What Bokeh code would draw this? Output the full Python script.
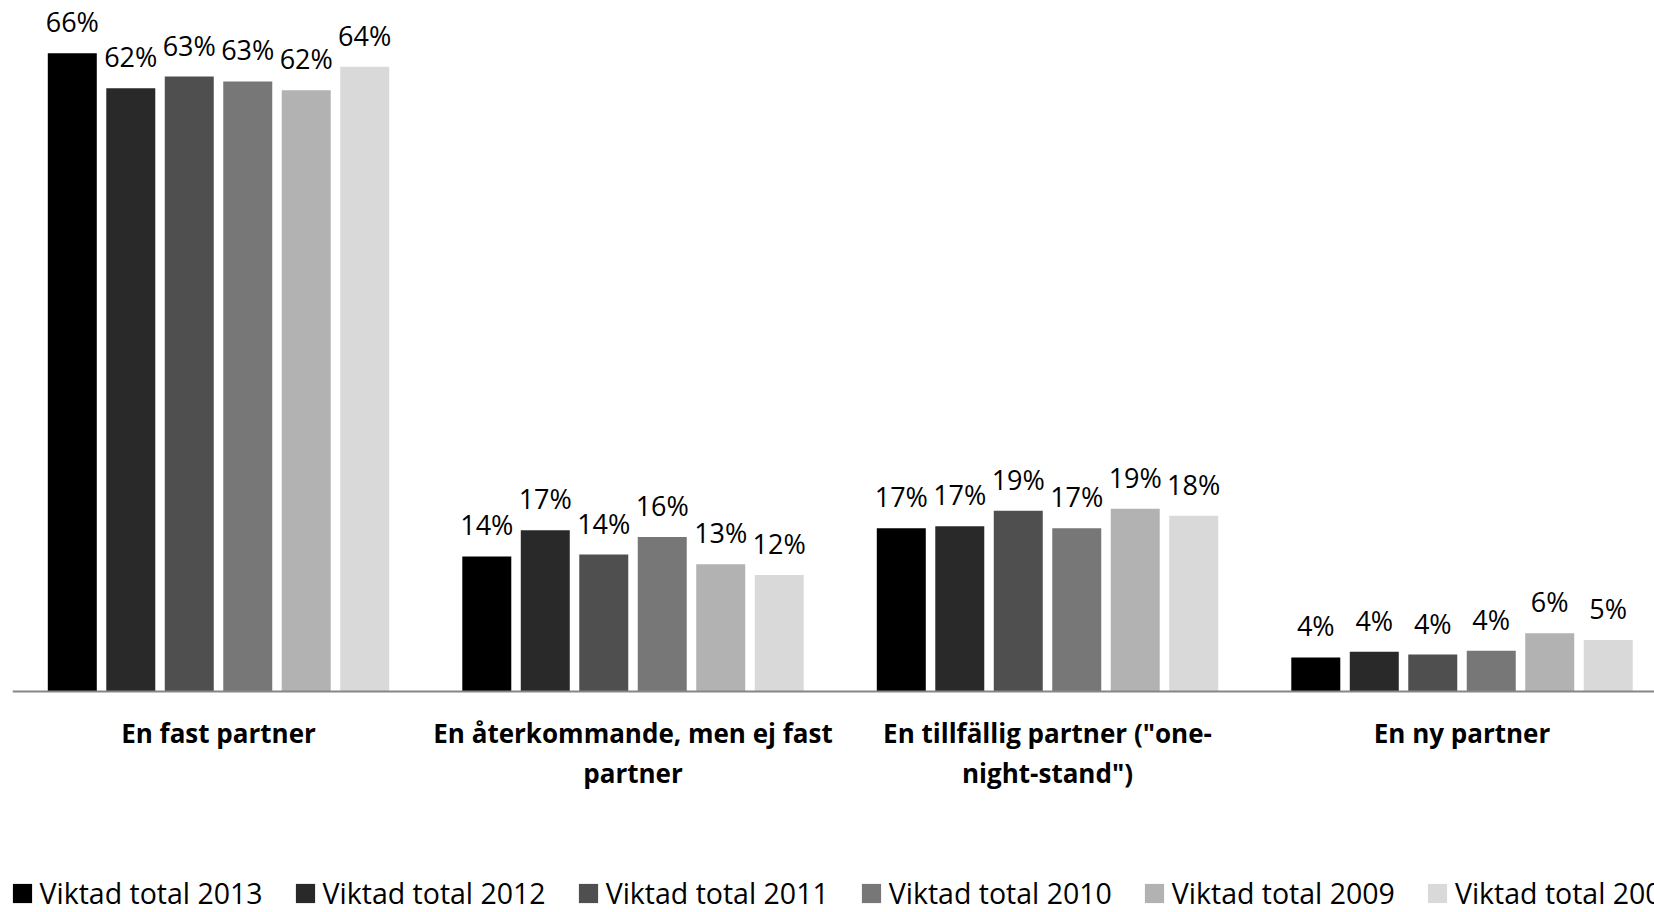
from bokeh.plotting import figure
from bokeh.models import ColumnDataSource, Range1d, FixedTicker, LabelSet, Legend, LegendItem
from bokeh.core.properties import value
from bokeh.embed import file_html
from bokeh.resources import INLINE

categories = [
    "En fast partner",
    "En återkommande, men ej fast\npartner",
    "En tillfällig partner (\"one-\nnight-stand\")",
    "En ny partner",
]
series_names = [
    "Viktad total 2013",
    "Viktad total 2012",
    "Viktad total 2011",
    "Viktad total 2010",
    "Viktad total 2009",
    "Viktad total 2008",
]
v2013 = [65.7, 13.9, 16.8, 3.5]
v2012 = [62.1, 16.6, 17.0, 4.1]
v2011 = [63.3, 14.1, 18.6, 3.8]
v2010 = [62.8, 15.9, 16.8, 4.2]
v2009 = [61.9, 13.1, 18.8, 6.0]
v2008 = [64.3, 12.0, 18.1, 5.3]
series_values = [v2013, v2012, v2011, v2010, v2009, v2008]
colors = ["#000000", "#292929", "#4f4f4f", "#777777", "#b2b2b2", "#d9d9d9"]

FONT = "Open Sans"
pitch = 0.1411
bar_w = 0.1182

p = figure(
    output_backend="svg",
    toolbar_location=None,
    frame_width=1642,
    frame_height=903,
    min_border_left=12,
    min_border_right=0,
    min_border_top=9,
    min_border_bottom=0,
    x_range=Range1d(-0.497, 3.4644),
    y_range=Range1d(-22.75, 70.2),
)
p.background_fill_color = "white"
p.border_fill_color = "white"
p.outline_line_color = None
p.grid.visible = False
p.yaxis.visible = False

renderers = []
for j, (name, vals, col) in enumerate(zip(series_names, series_values, colors)):
    xs = [i + (j - 2.5) * pitch for i in range(len(categories))]
    src = ColumnDataSource(dict(
        x=xs,
        top=vals,
        label=[f"{int(v + 0.5)}%" for v in vals],
    ))
    r = p.vbar(x="x", top="top", bottom=0, width=bar_w, source=src, fill_color=col, line_color=None)
    renderers.append(r)
    p.add_layout(LabelSet(
        x="x", y="top", text="label", source=src,
        text_align="center", text_baseline="alphabetic", y_offset=21,
        text_font=value(FONT), text_font_size=value("27px"), text_color="#000000",
    ))

ax = p.xaxis[0]
ax.fixed_location = 0
ax.ticker = FixedTicker(ticks=list(range(len(categories))))
ax.major_label_overrides = {i: c for i, c in enumerate(categories)}
ax.major_tick_line_color = None
ax.minor_tick_line_color = None
ax.major_tick_out = 0
ax.major_tick_in = 0
ax.minor_tick_out = 0
ax.minor_tick_in = 0
ax.axis_line_color = "#868686"
ax.axis_line_width = 2
ax.major_label_standoff = 24
ax.major_label_text_font = FONT
ax.major_label_text_font_style = "bold"
ax.major_label_text_font_size = "26px"
ax.major_label_text_color = "#000000"
ax.major_label_text_line_height = 1.11

legend = Legend(
    items=[LegendItem(label=n, renderers=[r]) for n, r in zip(series_names, renderers)],
    orientation="horizontal",
    location=(-2.5, 0),
    padding=0,
    margin=0,
    spacing=30,
    glyph_width=24,
    glyph_height=24,
    label_standoff=6,
    label_text_font=FONT,
    label_text_font_size="28.5px",
    label_text_color="#000000",
    border_line_color=None,
    background_fill_alpha=0,
)
p.add_layout(legend, "center")

open("out.html", "w").write(file_html(p, INLINE))
